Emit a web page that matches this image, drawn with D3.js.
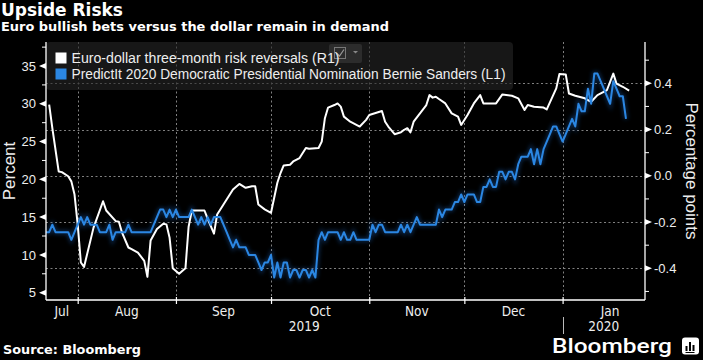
<!DOCTYPE html>
<html>
<head>
<meta charset="utf-8">
<script src="https://cdn.jsdelivr.net/npm/d3@7"></script>
<style>
  html, body { margin: 0; padding: 0; background: #000; }
  svg { display: block; }
</style>
</head>
<body>
<svg id="chart" width="703" height="360"></svg>
<script>
// ---------------- DATA ----------------
const titleText = "Upside Risks";
const subtitleText = "Euro bullish bets versus the dollar remain in demand";
const sourceText = "Source: Bloomberg";
const seriesNames = [
  "Euro-dollar three-month risk reversals (R1)",
  "PredictIt 2020 Democratic Presidential Nomination Bernie Sanders (L1)"
];
const leftAxisTitle = "Percent";
const rightAxisTitle = "Percentage points";
const leftTicks = [5, 10, 15, 20, 25, 30, 35];
const leftMinorTicks = [7.5, 12.5, 17.5, 22.5, 27.5, 32.5, 37.5];
const rightTicks = [-0.4, -0.2, 0.0, 0.2, 0.4];
const rightMinorTicks = [-0.5, -0.3, -0.1, 0.1, 0.3, 0.5];
const monthLabels = ["Jul", "Aug", "Sep", "Oct", "Nov", "Dec", "Jan"];
const yearLabels = ["2019", "2020"];
const xDomain = ["2019-07-22", "2020-01-27"];

// Euro-dollar 3M risk reversals (right axis, percentage points)
const rrDates = [
  "2019-07-23","2019-07-24","2019-07-26","2019-07-27","2019-07-29","2019-07-30","2019-07-31",
  "2019-08-01","2019-08-02","2019-08-03","2019-08-06","2019-08-09","2019-08-10","2019-08-13",
  "2019-08-14","2019-08-15","2019-08-17","2019-08-18","2019-08-20","2019-08-22","2019-08-23",
  "2019-08-24","2019-08-26","2019-08-28","2019-08-29","2019-08-30","2019-08-31","2019-09-02",
  "2019-09-04","2019-09-05","2019-09-06","2019-09-10","2019-09-11","2019-09-13","2019-09-14",
  "2019-09-16","2019-09-19","2019-09-21","2019-09-23","2019-09-25","2019-09-26","2019-09-27",
  "2019-09-29","2019-10-01","2019-10-03","2019-10-04","2019-10-05","2019-10-07","2019-10-08",
  "2019-10-10","2019-10-12","2019-10-13","2019-10-16","2019-10-17","2019-10-18","2019-10-19",
  "2019-10-21","2019-10-22","2019-10-23","2019-10-24","2019-10-26","2019-10-29","2019-10-31",
  "2019-11-01","2019-11-05","2019-11-06","2019-11-07","2019-11-09","2019-11-11","2019-11-12",
  "2019-11-13","2019-11-14","2019-11-15","2019-11-17","2019-11-19","2019-11-20","2019-11-21",
  "2019-11-22","2019-11-23","2019-11-25","2019-11-27","2019-11-29","2019-11-30","2019-12-02",
  "2019-12-04","2019-12-06","2019-12-07","2019-12-11","2019-12-13","2019-12-16","2019-12-18",
  "2019-12-20","2019-12-21","2019-12-23","2019-12-26","2019-12-27","2019-12-30","2019-12-31",
  "2020-01-02","2020-01-03","2020-01-05","2020-01-08","2020-01-10","2020-01-12","2020-01-15",
  "2020-01-17","2020-01-18","2020-01-20","2020-01-22"
];
const rrValues = [
  0.308, 0.206, 0.019, 0.016, -0.002, -0.024, -0.081,
  -0.21, -0.375, -0.394, -0.224, -0.11, -0.15, -0.196,
  -0.199, -0.246, -0.31, -0.317, -0.332, -0.368, -0.437,
  -0.28, -0.23, -0.207, -0.21, -0.268, -0.40, -0.424,
  -0.40, -0.22, -0.15, -0.15, -0.185, -0.25, -0.167,
  -0.124, -0.059, -0.035, -0.052, -0.045, -0.045, -0.124,
  -0.145, -0.16, -0.03, 0.012, 0.045, 0.048, 0.062,
  0.077, 0.12, 0.117, 0.12, 0.148, 0.249, 0.295,
  0.306, 0.313, 0.299, 0.256, 0.234, 0.213, 0.242,
  0.263, 0.28, 0.234, 0.213, 0.18, 0.188, 0.199,
  0.206, 0.188, 0.234, 0.27, 0.306, 0.349, 0.338,
  0.342, 0.332, 0.313, 0.27, 0.256, 0.22, 0.263,
  0.313, 0.349, 0.313, 0.313, 0.352, 0.346, 0.335,
  0.285, 0.306, 0.299, 0.295, 0.287, 0.378, 0.44,
  0.438, 0.356, 0.346, 0.335, 0.32, 0.349, 0.371,
  0.442, 0.399, 0.385, 0.368
];

// PredictIt Bernie Sanders nomination (left axis, percent)
const piDates = [
  "2019-07-22","2019-07-23","2019-07-24","2019-07-25","2019-07-29","2019-07-30","2019-07-31",
  "2019-08-01","2019-08-02","2019-08-03","2019-08-04","2019-08-05","2019-08-07","2019-08-08",
  "2019-08-10","2019-08-11","2019-08-12","2019-08-13","2019-08-16","2019-08-17","2019-08-18",
  "2019-08-24","2019-08-25","2019-08-26","2019-08-27","2019-08-28","2019-08-29","2019-08-30",
  "2019-08-31","2019-09-01","2019-09-02","2019-09-05","2019-09-06","2019-09-07","2019-09-08",
  "2019-09-09","2019-09-10","2019-09-11","2019-09-12","2019-09-13","2019-09-15","2019-09-16",
  "2019-09-17","2019-09-18","2019-09-19","2019-09-20","2019-09-21","2019-09-23","2019-09-24",
  "2019-09-26","2019-09-27","2019-09-28","2019-09-29","2019-09-30","2019-10-01","2019-10-02",
  "2019-10-03","2019-10-04","2019-10-05","2019-10-06","2019-10-07","2019-10-08","2019-10-09",
  "2019-10-10","2019-10-11","2019-10-12","2019-10-13","2019-10-14","2019-10-15","2019-10-16",
  "2019-10-17","2019-10-18","2019-10-19","2019-10-22","2019-10-23","2019-10-24","2019-10-25",
  "2019-10-26","2019-10-27","2019-10-28","2019-11-01","2019-11-02","2019-11-03","2019-11-04",
  "2019-11-05","2019-11-06","2019-11-10","2019-11-11","2019-11-12","2019-11-13","2019-11-14",
  "2019-11-15","2019-11-16","2019-11-17","2019-11-22","2019-11-23","2019-11-24","2019-11-25",
  "2019-11-27","2019-11-28","2019-11-29","2019-11-30","2019-12-01","2019-12-02","2019-12-04",
  "2019-12-05","2019-12-06","2019-12-07","2019-12-08","2019-12-09","2019-12-10","2019-12-11",
  "2019-12-12","2019-12-13","2019-12-14","2019-12-15","2019-12-16","2019-12-17","2019-12-18",
  "2019-12-19","2019-12-21","2019-12-22","2019-12-23","2019-12-24","2019-12-25","2019-12-26",
  "2019-12-27","2019-12-28","2019-12-29","2019-12-30","2019-12-31","2020-01-01","2020-01-02",
  "2020-01-03","2020-01-04","2020-01-05","2020-01-06","2020-01-07","2020-01-08","2020-01-09",
  "2020-01-10","2020-01-11","2020-01-12","2020-01-13","2020-01-14","2020-01-15","2020-01-16",
  "2020-01-17","2020-01-18","2020-01-19","2020-01-20","2020-01-21"
];
const piValues = [
  13, 13, 14, 13, 13, 12, 13,
  14, 15, 14, 15, 14, 14, 13,
  13, 14, 12, 13, 13, 14, 13,
  13, 14, 15, 16, 16, 15, 16,
  15, 16, 15, 15, 16, 15, 14,
  15, 14, 15, 14, 15, 15, 14,
  13, 12, 11, 12, 11, 11, 10,
  10, 9, 8, 9, 9, 10, 7,
  9, 7, 9, 9, 7, 8, 8,
  7, 8, 8, 7, 8, 7, 12,
  13, 12, 13, 13, 12, 13, 12,
  12, 13, 12, 12, 14, 13, 14,
  14, 13, 13, 14, 13, 14, 13,
  14, 15, 14, 14, 16, 15, 16,
  16, 17, 17, 18, 17, 18, 18,
  17, 17, 19, 19, 20, 19, 19,
  21, 21, 20, 21, 21, 20, 22,
  23, 23, 24, 22, 24, 22, 24,
  25, 26, 27, 27, 26, 25, 26,
  27, 28, 27, 30, 29, 29, 32,
  30, 34, 34, 33, 32, 31, 30,
  33, 32, 31, 31, 28
];

// ---------------- CHART ----------------
const parse = d3.timeParse("%Y-%m-%d");
const W = 703, H = 360;
const plot = { left: 46, right: 645, top: 42, bottom: 300 };

const svg = d3.select("#chart");
svg.append("rect").attr("width", W).attr("height", H).attr("fill", "#000");

const defs = svg.append("defs");
defs.append("filter").attr("id", "glow").attr("x", "-5%").attr("y", "-20%").attr("width", "110%").attr("height", "140%")
  .append("feGaussianBlur").attr("stdDeviation", 2);

const x = d3.scaleTime().domain(xDomain.map(parse)).range([plot.left, plot.right]);
const yL = d3.scaleLinear().domain([4.03, 38.18]).range([plot.bottom, plot.top]);
const yR = d3.scaleLinear().domain([-0.537, 0.5786]).range([plot.bottom, plot.top]);

const rr = rrDates.map((d, i) => ({ date: parse(d), value: rrValues[i] }));
const pi = piDates.map((d, i) => ({ date: parse(d), value: piValues[i] }));

const axisFont = "'Liberation Sans', Arial, sans-serif";
const labelColor = "#eeeeee";

// Titles
svg.append("text").attr("x", 1).attr("y", 16)
  .attr("font-family", "'DejaVu Sans', Verdana, sans-serif").attr("font-weight", "bold")
  .attr("font-size", 18).attr("fill", "#fff")
  .attr("textLength", 122).attr("lengthAdjust", "spacingAndGlyphs")
  .text(titleText);
svg.append("text").attr("x", 1).attr("y", 30.5)
  .attr("font-family", "'DejaVu Sans', Verdana, sans-serif").attr("font-weight", "bold")
  .attr("font-size", 12.5).attr("fill", "#fff")
  .attr("textLength", 388).attr("lengthAdjust", "spacingAndGlyphs")
  .text(subtitleText);

// Gridlines
const months = d3.timeMonth.range(d3.timeMonth.ceil(x.domain()[0]), x.domain()[1]);
const grid = svg.append("g").attr("stroke", "#808080").attr("stroke-width", 1).attr("stroke-dasharray", "2,2.5");
grid.selectAll("line.v").data(months).join("line").attr("class", "v")
  .attr("x1", d => Math.round(x(d)) + 0.5).attr("x2", d => Math.round(x(d)) + 0.5)
  .attr("y1", plot.top).attr("y2", plot.bottom);
grid.selectAll("line.h").data(rightTicks).join("line").attr("class", "h")
  .attr("x1", plot.left).attr("x2", plot.right)
  .attr("y1", d => Math.round(yR(d)) + 0.5).attr("y2", d => Math.round(yR(d)) + 0.5);

// Legend box (semi transparent)
svg.append("rect").attr("x", 46).attr("y", 42).attr("width", 467).attr("height", 48)
  .attr("rx", 4).attr("fill", "#262626").attr("opacity", 0.6);
// small chart widget icon
const icon = svg.append("g");
icon.append("rect").attr("x", 329).attr("y", 44).attr("width", 33).attr("height", 19).attr("rx", 2).attr("fill", "#2c2c2c");
icon.append("rect").attr("x", 334.5).attr("y", 47.5).attr("width", 11).attr("height", 11).attr("fill", "none").attr("stroke", "#777");
icon.append("path").attr("d", "M336.5,53 L339.5,56 L344,49.5").attr("fill", "none").attr("stroke", "#999").attr("stroke-width", 1.2);
icon.append("path").attr("d", "M353,51 L358,51 L355.5,53.5 Z").attr("fill", "#888");

const legendColors = ["#ffffff", "#2b87e3"];
const legendWidths = [268, 434];
seriesNames.forEach((name, i) => {
  const yy = 52.5 + i * 16;
  svg.append("rect").attr("x", 55.5).attr("y", yy).attr("width", 11).attr("height", 11).attr("fill", legendColors[i]);
  svg.append("text").attr("x", 71.5).attr("y", yy + 10.5)
    .attr("font-family", axisFont).attr("font-size", 14).attr("fill", labelColor)
    .attr("textLength", legendWidths[i]).attr("lengthAdjust", "spacingAndGlyphs")
    .text(name);
});

// Lines
const lineL = d3.line().x(d => x(d.date)).y(d => yL(d.value));
const lineR = d3.line().x(d => x(d.date)).y(d => yR(d.value));

svg.append("path").datum(pi).attr("d", lineL).attr("fill", "none")
  .attr("stroke", "#1d5fb0").attr("stroke-width", 4).attr("opacity", 0.45).attr("filter", "url(#glow)");
svg.append("path").datum(rr).attr("d", lineR).attr("fill", "none")
  .attr("stroke", "#ffffff").attr("stroke-width", 2).attr("stroke-linejoin", "round");
svg.append("path").datum(pi).attr("d", lineL).attr("fill", "none")
  .attr("stroke", "#2b87e3").attr("stroke-width", 2).attr("stroke-linejoin", "round");

// Axes frame lines
const axisG = svg.append("g").attr("stroke", "#fff").attr("stroke-width", 1.3);
axisG.append("line").attr("x1", plot.left).attr("x2", plot.left).attr("y1", plot.top).attr("y2", plot.bottom);
axisG.append("line").attr("x1", plot.right).attr("x2", plot.right).attr("y1", plot.top).attr("y2", plot.bottom);
axisG.append("line").attr("x1", plot.left).attr("x2", plot.right).attr("y1", plot.bottom).attr("y2", plot.bottom);

// Left axis (labels via d3 axis, custom ticks)
const leftAxis = svg.append("g").attr("transform", `translate(${plot.left},0)`)
  .call(d3.axisLeft(yL).tickValues(leftTicks).tickSize(0).tickPadding(10).tickFormat(d3.format("d")));
leftAxis.select(".domain").remove();
leftAxis.selectAll("text").attr("font-family", axisFont).attr("font-size", 13).attr("fill", labelColor);
svg.append("g").selectAll("path").data(leftTicks).join("path")
  .attr("d", d => { const yy = yL(d); return `M${plot.left},${yy - 3}L${plot.left - 7},${yy}L${plot.left},${yy + 3}Z`; })
  .attr("fill", "#fff");
svg.append("g").selectAll("line").data(leftMinorTicks).join("line")
  .attr("x1", plot.left - 4).attr("x2", plot.left).attr("y1", d => yL(d)).attr("y2", d => yL(d))
  .attr("stroke", "#fff").attr("stroke-width", 1);

// Right axis
const fmtR = d => d3.format(".1f")(d).replace("\u2212", "-");
const rightAxis = svg.append("g").attr("transform", `translate(${plot.right},0)`)
  .call(d3.axisRight(yR).tickValues(rightTicks).tickSize(0).tickPadding(9).tickFormat(fmtR));
rightAxis.select(".domain").remove();
rightAxis.selectAll("text").attr("font-family", axisFont).attr("font-size", 13).attr("fill", labelColor);
svg.append("g").selectAll("path").data(rightTicks).join("path")
  .attr("d", d => { const yy = yR(d); return `M${plot.right},${yy - 3}L${plot.right + 7},${yy}L${plot.right},${yy + 3}Z`; })
  .attr("fill", "#fff");
svg.append("g").selectAll("line").data(rightMinorTicks).join("line")
  .attr("x1", plot.right).attr("x2", plot.right + 4).attr("y1", d => yR(d)).attr("y2", d => yR(d))
  .attr("stroke", "#fff").attr("stroke-width", 1);

// Axis titles
svg.append("text").attr("transform", "translate(15,171) rotate(-90)")
  .attr("text-anchor", "middle").attr("font-family", axisFont).attr("font-size", 17).attr("fill", labelColor)
  .text(leftAxisTitle);
svg.append("text").attr("transform", "translate(686,171) rotate(90)")
  .attr("text-anchor", "middle").attr("font-family", axisFont).attr("font-size", 17).attr("fill", labelColor)
  .text(rightAxisTitle);

// X axis month ticks
const xAxis = svg.append("g").attr("transform", `translate(0,${plot.bottom})`)
  .call(d3.axisBottom(x).tickValues(months).tickSize(4).tickFormat(""));
xAxis.select(".domain").remove();
xAxis.selectAll("line").attr("stroke", "#fff").attr("stroke-width", 1.2).attr("y1", -3).attr("y2", 4);

// Month labels
const [d0, d1] = x.domain();
const monthStarts = [d3.timeMonth.floor(d0), ...months];
const monthPos = monthStarts.map(m => {
  const s = m < d0 ? d0 : m;
  const nextM = d3.timeMonth.offset(m, 1);
  const e = nextM > d1 ? d1 : nextM;
  if (m >= d0 && nextM <= d1) return (x(s) + x(e)) / 2;
  const mid = new Date(m.getFullYear(), m.getMonth(), 16);
  if (mid > d0 && mid < d1) return x(mid);
  return (x(s) + x(e)) / 2;
});
const xFont = "'Liberation Sans Narrow', 'DejaVu Sans Condensed', 'Liberation Sans', sans-serif";
svg.append("g").selectAll("text").data(monthLabels).join("text")
  .attr("x", (d, i) => monthPos[i]).attr("y", 316)
  .attr("text-anchor", "middle").attr("font-family", xFont).attr("font-size", 13.5).attr("fill", labelColor)
  .text(d => d);

// Year labels
const yearBoundary = parse("2020-01-01");
const yearPos = [(x(d0) + x(yearBoundary)) / 2, (x(yearBoundary) + x(d1)) / 2];
svg.append("g").selectAll("text").data(yearLabels).join("text")
  .attr("x", (d, i) => yearPos[i]).attr("y", 331)
  .attr("text-anchor", "middle").attr("font-family", xFont).attr("font-size", 13.5).attr("fill", labelColor)
  .text(d => d);
svg.append("line").attr("x1", Math.round(x(yearBoundary)) + 0.5).attr("x2", Math.round(x(yearBoundary)) + 0.5)
  .attr("y1", 317).attr("y2", 334).attr("stroke", "#bbb").attr("stroke-width", 1);

// Source
svg.append("text").attr("x", 3).attr("y", 353.5)
  .attr("font-family", "'DejaVu Sans', Verdana, sans-serif").attr("font-weight", "bold")
  .attr("font-size", 12.5).attr("fill", "#fff")
  .attr("textLength", 138).attr("lengthAdjust", "spacingAndGlyphs")
  .text(sourceText);

// Bloomberg logo
svg.append("text").attr("x", 552).attr("y", 352.5)
  .attr("font-family", "Roboto, 'Liberation Sans', sans-serif").attr("font-weight", 500)
  .attr("font-size", 21).attr("fill", "#fff")
  .attr("textLength", 120).attr("lengthAdjust", "spacingAndGlyphs")
  .text("Bloomberg");
const logo = svg.append("g");
logo.append("rect").attr("x", 682).attr("y", 337.5).attr("width", 17).attr("height", 17).attr("rx", 3).attr("fill", "#fff");
logo.append("rect").attr("x", 685.5).attr("y", 346).attr("width", 2).attr("height", 5).attr("fill", "#000");
logo.append("rect").attr("x", 689).attr("y", 342).attr("width", 2).attr("height", 9).attr("fill", "#000");
logo.append("rect").attr("x", 692.5).attr("y", 345).attr("width", 2).attr("height", 6).attr("fill", "#000");
logo.append("rect").attr("x", 685.5).attr("y", 352).attr("width", 9).attr("height", 1).attr("fill", "#000");
</script>
</body>
</html>
